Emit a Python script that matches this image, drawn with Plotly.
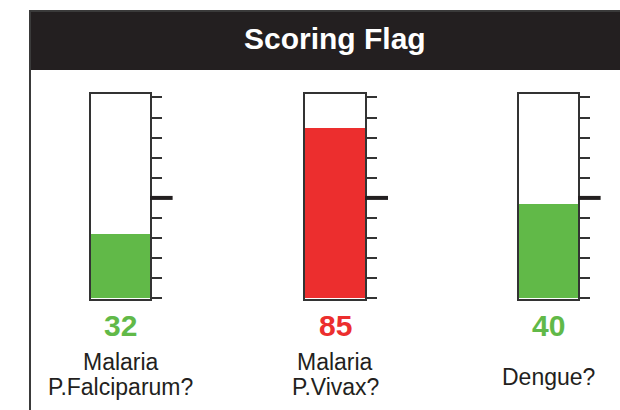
import plotly.graph_objects as go

# ---- data ----
title_text = "Scoring Flag"
label_lines = [["Malaria", "P.Falciparum?"], ["Malaria", "P.Vivax?"], ["Dengue?"]]
score_labels = [32, 85, 40]          # numbers printed under each gauge
fill_levels = [32, 85, 47]           # fill height as drawn in the reference gauges
fill_colors = ["#61b948", "#ec2e2e", "#61b948"]
tick_values = list(range(0, 101, 10))
threshold = 50

W, H = 620, 410
TUBES_PX = [(91, 150), (305, 365), (519, 578)]
TUBE_TOP, TUBE_BOT = 94, 299
DARK = "#231f20"
LINE = "#333333"

def px_x(p):
    return p / W

def px_y(p):
    return 1 - p / H

fig = go.Figure()
layout_axes = {}
shapes = []
annotations = []

for i, (lvl, col, (x0, x1)) in enumerate(zip(fill_levels, fill_colors, TUBES_PX)):
    n = "" if i == 0 else str(i + 1)
    fig.add_trace(go.Bar(x=[0], y=[lvl], width=[1], marker=dict(color=col, line=dict(width=0)),
                         xaxis="x" + n, yaxis="y" + n, showlegend=False, hoverinfo="skip"))
    layout_axes["xaxis" + n] = dict(domain=[px_x(x0), px_x(x1)], range=[-0.5, 0.5], anchor="y" + n,
                                    showline=True, mirror=True, linecolor=LINE, linewidth=2,
                                    showgrid=False, zeroline=False, showticklabels=False, ticks="",
                                    fixedrange=True)
    layout_axes["yaxis" + n] = dict(domain=[px_y(TUBE_BOT), px_y(TUBE_TOP)], range=[-0.3, 101.7],
                                    anchor="x" + n, side="right",
                                    showline=True, mirror=True, linecolor=LINE, linewidth=2,
                                    ticks="outside", ticklen=10, tickwidth=1.5, tickcolor=LINE,
                                    tickvals=tick_values, showticklabels=False,
                                    showgrid=False, zeroline=False, fixedrange=True)
    # bold threshold tick
    shapes.append(dict(type="line", xref="x" + n + " domain", yref="y" + n,
                       x0=1.0, x1=1.0 + 23 / 60, y0=threshold, y1=threshold,
                       line=dict(color=DARK, width=4), layer="above"))
    cx = px_x((x0 + x1) / 2)
    annotations.append(dict(x=cx, y=px_y(325.5), xref="paper", yref="paper",
                            text="<b>%d</b>" % score_labels[i], showarrow=False,
                            xanchor="center", yanchor="middle",
                            font=dict(family="Liberation Sans, Arial, sans-serif", size=30, color=col)))
    lines = label_lines[i]
    if len(lines) == 2:
        ys = [362, 387]
    else:
        ys = [376.5]
    for txt, yy in zip(lines, ys):
        annotations.append(dict(x=cx, y=px_y(yy), xref="paper", yref="paper", text=txt,
                                showarrow=False, xanchor="center", yanchor="middle",
                                font=dict(family="Liberation Sans, Arial, sans-serif", size=23, color=DARK)))

# outer frame and header band
shapes.insert(0, dict(type="rect", xref="paper", yref="paper", x0=px_x(30), x1=1.2,
                      y0=-0.2, y1=px_y(11), line=dict(color="#3a3a3a", width=2),
                      fillcolor="rgba(0,0,0,0)", layer="below"))
shapes.insert(0, dict(type="rect", xref="paper", yref="paper", x0=px_x(30), x1=1.2,
                      y0=px_y(70), y1=px_y(11), line=dict(width=0),
                      fillcolor=DARK, layer="below"))
annotations.append(dict(x=px_x(334.5), y=px_y(39), xref="paper", yref="paper",
                        text="<b>" + title_text + "</b>", showarrow=False,
                        xanchor="center", yanchor="middle",
                        font=dict(family="Liberation Sans, Arial, sans-serif", size=30, color="white")))

fig.update_layout(width=W, height=H, autosize=False,
                  margin=dict(l=0, r=0, t=0, b=0),
                  paper_bgcolor="white", plot_bgcolor="white",
                  shapes=shapes, annotations=annotations, bargap=0,
                  **layout_axes)

fig.write_html("out.html", config={"displayModeBar": False},
               post_script="document.body.style.margin='0px';document.body.style.overflow='hidden';")
